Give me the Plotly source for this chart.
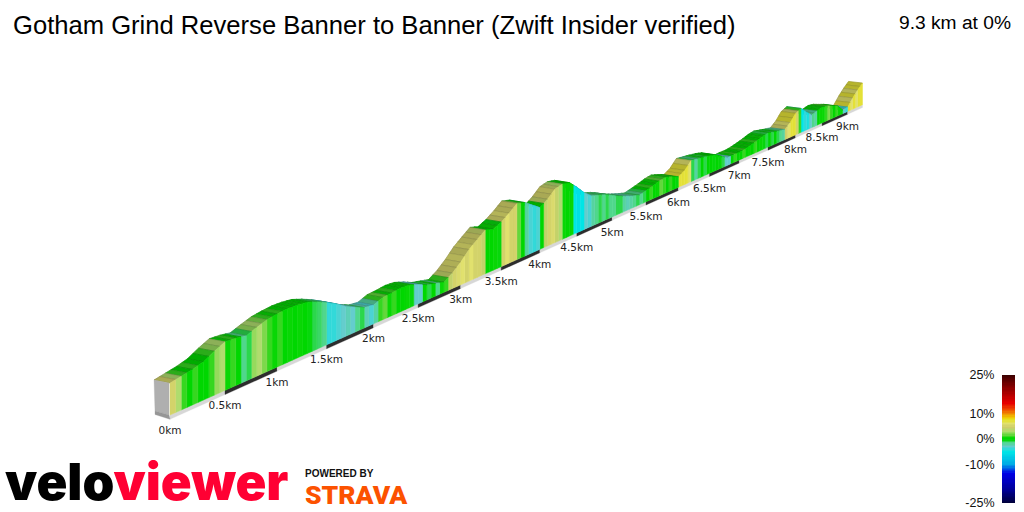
import plotly.graph_objects as go

TITLE = "Gotham Grind Reverse Banner to Banner (Zwift Insider verified)"
SUMMARY = "9.3 km at 0%"

# wall height at every 0.1 km (near-scale units)
elevation = [32,34,36,39,45,50,49,47,51,54.5,56,57,56.5,55,51,46,40,33,27.4,22.5,
             21,25,25.5,26.7,25.7,22,17,14.4,11.7,18,26.6,37,44.6,52,48.8,53.4,60,67.7,65,58,
             51,57.4,66,68.4,66.4,57,46.4,38.7,35.5,32.3,27.6,22.5,18.8,15.3,12.5,14.5,16.7,19.5,20.8,17.8,
             14,18.9,28.3,26.9,25.6,24,21.6,15.8,10.2,11,10.6,11.7,13.6,15.9,18.7,20,18,16,14.4,21,
             31,34.7,26,18.4,21,23,21.5,18,14.8,5.5,6.6,17,25.7,33]

# gradient (%) of every 0.05 km strip
gradient = [5,3,1,0,1,0,0,1,2.5,3,
            0.5,1,0,-1.5,-1,2.5,3,2,1,0.5,
            1,0,0.5,0,0.5,0,-0.5,-1,-1.2,-1.5,
            -4,-4,-3.5,-3,-2.5,-3,-1.5,-1,-2.5,-3.5,
            -2,1,1.5,0.5,1,0,0,0.5,-0.5,-3,
            -3,0,-1,0,-1.5,0.5,1,4,5,5.5,
            6,5,6,5,5,4,0,0,0.5,-0.5,
            5,6,5,5,1.5,0,-2,-3.5,-4,-3.5,
            0,4,5,5.5,4,3,0.5,0,0.5,-5,
            -5.5,-5,-3,-3.5,-2,-1.5,-1,-1.5,-1,-1.5,
            -1.5,-1,-1,-2,-2.5,-2,-1.5,-1,-1.5,-1,
            0,1,0,0.5,1.5,1,0,1,0,-0.5,
            7,7,7,6,-1,-2,-1,0,-1,0,
            0,-0.5,0,-0.5,-1,-3,-3,0,1,0,
            0,1,0,0.5,0,1,0,0.5,-0.5,-1,
            0,-1,0,-1,-1.5,-2,5,6,7,7,
            5,1,-5,-4,-4.5,-3,-1.5,-2,0,0.5,
            0.5,1,2,1,0,1,0.5,-0.5,-3,-4,
            7,6,7,6,7,7]

km_ticks = [0,0.5,1,1.5,2,2.5,3,3.5,4,4.5,5,5.5,6,6.5,7,7.5,8,8.5,9]
km_labels = ["0km","0.5km","1km","1.5km","2km","2.5km","3km","3.5km","4km","4.5km",
             "5km","5.5km","6km","6.5km","7km","7.5km","8km","8.5km","9km"]
bar_ticks = [25,10,0,-10,-25]
bar_labels = ["25%","10%","0%","-10%","-25%"]
bar_values = [25 - i*0.5 for i in range(101)]

stops = [(-25,(0,0,60)),(-20,(0,0,150)),(-13.5,(0,0,230)),(-10,(0,170,230)),(-5,(0,230,230)),
         (-3,(100,205,205)),(-1.5,(80,215,140)),(-0.4,(0,215,0)),(0.4,(0,215,0)),(1.5,(100,215,60)),
         (3,(175,220,110)),(4.5,(205,205,105)),(6,(225,225,110)),(7.5,(230,225,30)),(8.5,(240,200,0)),(11,(240,90,0)),
         (14,(230,0,0)),(18,(170,0,0)),(25,(60,0,0))]

def rgb(c, f=1.0):
    return "rgb(%d,%d,%d)" % tuple(int(v*f) for v in c)

def grad_color(g):
    for (a, ca), (b, cb) in zip(stops, stops[1:]):
        if a <= g <= b:
            t = (g-a)/(b-a)
            return tuple(ca[i]+(cb[i]-ca[i])*t for i in range(3))
    return stops[-1][1]

# projection of the ribbon into the picture
C = 0.0558
def scale(d): return 1/(1+C*d)
def px(d): return 170+113.1*d*scale(d)
def py(d): return 415-50.67*d*scale(d)
def depth(d): return (-16+0.22*d, -3+0.15*d)
def elev_at(d):
    i = min(int(d*10+1e-9), len(elevation)-2)
    t = d*10-i
    return elevation[i]+(elevation[i+1]-elevation[i])*t
def front(d): return px(d), py(d)-elev_at(d)*scale(d)
def back(d):
    x, y = front(d); a, b = depth(d)
    return x+a, y+b

fig = go.Figure()
def poly(pts, color, line=None, width=0.6):
    xs = [p[0] for p in pts]+[pts[0][0]]
    ys = [p[1] for p in pts]+[pts[0][1]]
    fig.add_trace(go.Scatter(x=xs, y=ys, mode="lines", fill="toself", fillcolor=color,
                             line=dict(color=line or color, width=width),
                             hoverinfo="skip", showlegend=False, xaxis="x", yaxis="y"))

# road band with alternating half-km colours
for i in range(len(km_ticks)):
    d1 = km_ticks[i]; d2 = min(d1+0.5, 9.3)
    col = "rgb(215,215,215)" if i % 2 == 0 else "rgb(45,45,45)"
    poly([(px(d1),py(d1)),(px(d2),py(d2)),(px(d2),py(d2)+4.3*scale(d2)),(px(d1),py(d1)+4.3*scale(d1))], col, width=0.3)

# strips far to near
n = len(gradient)
for i in range(n-1, -1, -1):
    d1 = i*0.05; d2 = min((i+1)*0.05, 9.3)
    c = grad_color(gradient[i])
    top = tuple(v*0.80 for v in c)
    poly([front(d1), front(d2), back(d2), back(d1)], rgb(top), line=rgb(top, 0.85), width=0.7)
    poly([(px(d1),py(d1)), front(d1), front(d2), (px(d2),py(d2))], rgb(c), width=0.5)

# end cap
fx, fy = px(0), py(0)
tx, ty = front(0); bx, by = back(0)
poly([(bx,by),(tx-1,ty),(fx-1,fy),(bx+1,fy-4)], "rgb(175,175,175)", width=0.3)
poly([(bx+1,fy-4),(fx-1,fy),(fx,fy+4.3),(bx+1,fy-0.5)], "rgb(150,150,150)", width=0.3)

# km labels
fig.add_trace(go.Scatter(x=[px(d) for d in km_ticks], y=[py(d)+16 for d in km_ticks],
                         mode="text", text=km_labels, textposition="middle center",
                         textfont=dict(family="DejaVu Sans", size=10.5, color="#222"),
                         hoverinfo="skip", showlegend=False, xaxis="x", yaxis="y"))

# colour bar
n_stops = [[(g+25)/50, rgb(c)] for g, c in stops]
fig.add_trace(go.Heatmap(z=[[v] for v in bar_values], y=bar_values, x=[0],
                         colorscale=n_stops, zmin=-25, zmax=25, showscale=False,
                         hoverinfo="skip", xaxis="x2", yaxis="y2"))

anns = [
    dict(text=TITLE, x=11, y=25, xanchor="left", yanchor="middle",
         font=dict(family="Liberation Sans", size=25.6, color="black")),
    dict(text=SUMMARY, x=1013, y=22, xanchor="right", yanchor="middle",
         font=dict(family="Liberation Sans", size=19.2, color="black")),
    dict(text="velo<span style='color:#ff0033'>viewer</span>", x=3, y=481, xanchor="left", yanchor="middle",
         font=dict(family="Inter", size=51, color="black", weight=900)),
    dict(text="POWERED BY", x=303, y=473, xanchor="left", yanchor="middle",
         font=dict(family="Liberation Sans", size=10, color="#111", weight=700)),
    dict(text="STRAVA", x=303, y=494, xanchor="left", yanchor="middle",
         font=dict(family="Roboto", size=26.5, color="#fc5200", weight=900)),
]
for a in anns:
    a.update(xref="x", yref="y", showarrow=False)

fig.update_layout(
    width=1024, height=512, margin=dict(l=0, r=0, t=0, b=0, autoexpand=False),
    paper_bgcolor="white", plot_bgcolor="white", annotations=anns, showlegend=False,
    xaxis=dict(range=[0,1024], domain=[0,1], visible=False, fixedrange=True),
    yaxis=dict(range=[512,0], domain=[0,1], visible=False, fixedrange=True),
    xaxis2=dict(domain=[1002/1024,1015/1024], anchor="y2", visible=False, fixedrange=True),
    yaxis2=dict(domain=[9/512,137/512], anchor="x2", range=[-25,25], side="left",
                tickmode="array", tickvals=bar_ticks, ticktext=bar_labels,
                showgrid=False, zeroline=False, showline=False, ticks="outside", ticklen=4,
                tickcolor="rgba(0,0,0,0)", fixedrange=True,
                tickfont=dict(family="Liberation Sans", size=12.5, color="#111")),
)
fig.write_html("out.html", config=dict(displayModeBar=False),
               post_script="document.body.style.margin='0';document.documentElement.style.overflow='hidden';")
